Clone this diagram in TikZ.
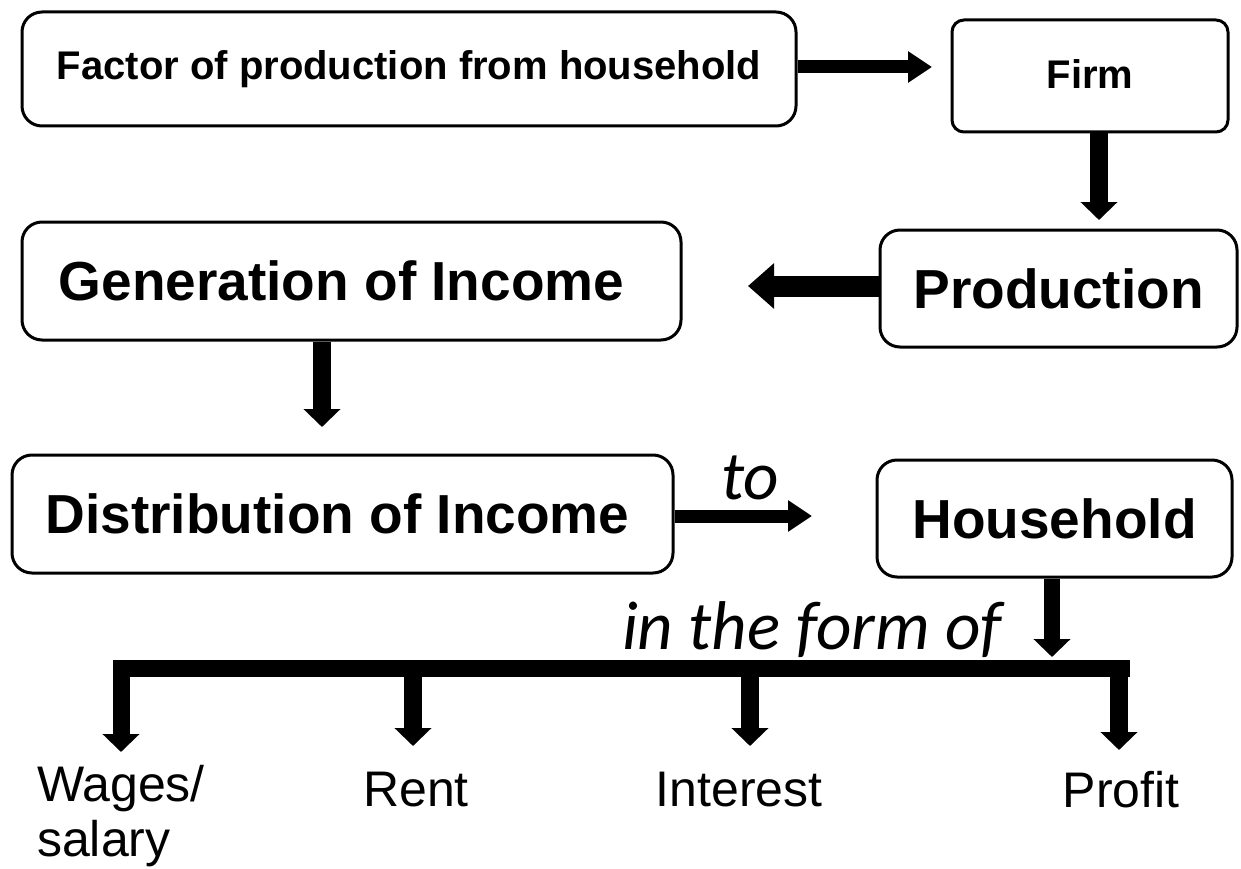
\documentclass[tikz,border=0pt]{standalone}
\usepackage{fontspec}
\setmainfont{Liberation Sans}
\newfontfamily\calib{Carlito}
\usetikzlibrary{arrows.meta}
\begin{document}
\begin{tikzpicture}[x=1pt,y=-1pt,
  box/.style={draw, line width=3pt, rounded corners=20pt, inner sep=0pt, align=center,
    font=\bfseries\fontsize{55}{60}\selectfont},
  smallbox/.style={box, rounded corners=12pt, font=\bfseries\fontsize{40}{46}\selectfont},
  arrh/.style={line width=13pt, -{Triangle[width=30pt,length=24pt]}},
  arrbig/.style={line width=21pt, -{Triangle[width=44pt,length=26pt]}},
  arrv/.style={line width=18pt, -{Triangle[width=36pt,length=18pt]}},
  lbl/.style={inner sep=0pt, align=left, font=\fontsize{50}{55}\selectfont},
  ital/.style={inner sep=0pt, font=\calib\itshape\fontsize{69}{72}\selectfont}]
\useasboundingbox[fill=white] (0,0) rectangle (1241,869);

\node[box, font=\bfseries\fontsize{40}{46}\selectfont, minimum width=774pt, minimum height=114pt] (fop) at (409,69) {Factor of production from household};
\node[smallbox, minimum width=276pt, minimum height=112pt] (firm) at (1090,76) {\raisebox{4pt}{Firm}};
\node[box, minimum width=659pt, minimum height=118pt] (gen) at (351.5,281) {\hspace*{-20pt}Generation of Income};
\node[box, minimum width=357pt, minimum height=117pt] (prod) at (1058.5,288.5) {Production};
\node[box, minimum width=661pt, minimum height=118pt] (dist) at (342.5,514) {\hspace*{-10pt}Distribution of Income};
\node[box, minimum width=355pt, minimum height=117pt] (hh) at (1054.5,518.5) {Household};

\coordinate (t1) at (932,67);
\draw[arrh] (fop.east |- t1) -- (t1);
\coordinate (t2) at (1099,220);
\draw[arrv] (firm.south -| t2) -- (t2);
\coordinate (t3) at (748,286);
\draw[arrbig] (prod.west |- t3) -- (t3);
\coordinate (t4) at (322,427);
\draw[arrv] (gen.south -| t4) -- (t4);
\coordinate (t5) at (812,516);
\draw[arrh] (dist.east |- t5) -- (t5);
\node[ital] (to) at (750,478) {to};
\coordinate (t6) at (1052,657);
\draw[arrv, line width=16pt] (hh.south -| t6) -- (t6);
\node[ital] (form) at (812,630) {in the form of};

\coordinate (barR) at (1130,668.5);
\coordinate (barL) at (121,668.5);
\coordinate (bRent) at (413,668.5);
\coordinate (bInt) at (750,668.5);
\coordinate (bProf) at (1119,668.5);
\node[lbl] (wages) at (121,816) {Wages/\\salary};
\node[lbl] (rent) at (416,790) {Rent};
\node[lbl] (int) at (739,790) {Interest};
\node[lbl] (prof) at (1121,790) {Profit};
\draw[arrv, line width=17pt] (barR) -- (barL) -- (121,752);
\draw[arrv] (bRent) -- (413,746);
\draw[arrv] (bInt) -- (750,746);
\draw[arrv] (bProf) -- (1119,750);
\end{tikzpicture}
\end{document}
